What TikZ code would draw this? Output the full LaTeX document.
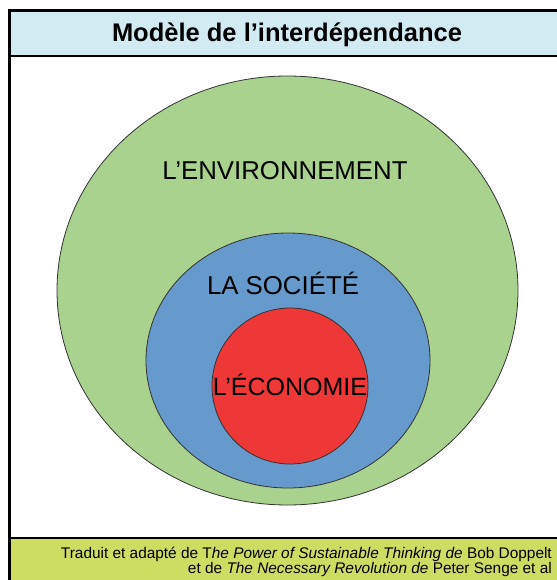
\documentclass[tikz,border=0pt]{standalone}
\usepackage{fontspec}
\setmainfont{Liberation Sans}
\usetikzlibrary{shapes}

\definecolor{titleblue}{RGB}{210,235,242}
\definecolor{footgreen}{RGB}{205,221,98}
\definecolor{envgreen}{RGB}{168,210,141}
\definecolor{socblue}{RGB}{102,153,204}
\definecolor{ecored}{RGB}{238,56,56}

\begin{document}
\begin{tikzpicture}[x=1pt,y=-1pt]
\tikzstyle{circle zone}=[ellipse,draw=black!80,line width=0.8pt,inner sep=0pt]
\tikzstyle{zone label}=[font=\fontsize{25.8}{28}\selectfont]
\tikzstyle{band}=[draw=black,line width=2.5pt]

\useasboundingbox (0,0) rectangle (556,580);

% frame with title and footer bands
\filldraw[band,fill=titleblue] (9.5,10.5) rectangle (570,56);
\draw[band] (9.5,56) rectangle (570,538);
\filldraw[band,fill=footgreen] (9.5,538) rectangle (570,600);

\node (title) at (287,35) {\fontsize{25.5}{28}\selectfont\bfseries Mod\`ele de l'interd\'ependance};

% nested zones
\node (env) [circle zone,fill=envgreen,minimum width=461pt,minimum height=429pt] at (287.5,290.5) {};
\node (soc) [circle zone,fill=socblue,minimum width=284pt,minimum height=255pt] at (288,360.5) {};
\node (eco) [circle zone,fill=ecored,minimum width=156pt,minimum height=156pt] at (290,386) {};

\node (env_label) [zone label] at (285,171) {L'ENVIRONNEMENT};
\node (soc_label) [zone label] at (283,283) {LA SOCI\'ET\'E};
\node (eco_label) [zone label,font=\fontsize{25}{28}\selectfont] at (290,385) {L'\'ECONOMIE};

% source
\node (source) [anchor=east,align=right,inner sep=0pt,font=\fontsize{15.4}{13.5}\selectfont] at (552,562)
  {Traduit et adapt\'e de T\textit{he Power of Sustainable Thinking de} Bob Doppelt\\
   et de \textit{The Necessary Revolution de} Peter Senge et al};
\end{tikzpicture}
\end{document}
